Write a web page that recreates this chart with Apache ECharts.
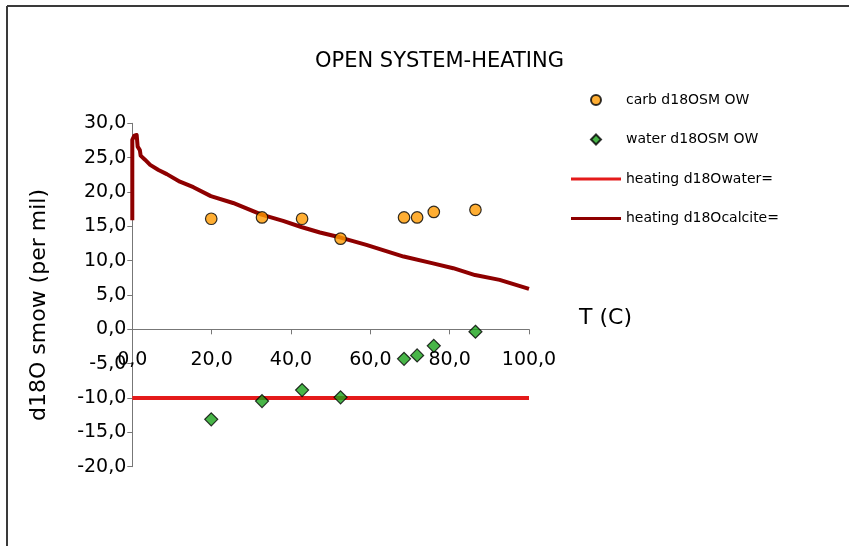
<!DOCTYPE html>
<html>
<head>
<meta charset="utf-8">
<script src="https://cdn.jsdelivr.net/npm/echarts@6/dist/echarts.min.js"></script>
<style>
html,body{margin:0;padding:0;background:#fff;}
#chart{width:849px;height:546px;}
</style>
</head>
<body>
<div id="chart"></div>
<script>
// Sample temperatures (T, °C)
const sampleT = [19.9, 32.7, 42.8, 52.5, 68.5, 71.8, 76.0, 86.5];
// carbonate d18O SMOW
const carbD18O = [16.1, 16.3, 16.1, 13.2, 16.3, 16.3, 17.1, 17.4];
// water d18O SMOW
const waterD18O = [-13.1, -10.45, -8.85, -9.9, -4.3, -3.8, -2.4, -0.35];
// heating model: water
const heatWaterT = [0, 100];
const heatWaterD18O = [-10, -10];
// heating model: calcite
const heatCalciteT = [0, 0, 0.5, 1.1, 1.35, 1.9, 2.1, 3.2, 4.5, 6.6, 8.7, 12.0, 15.4, 19.8, 25.4, 32.6, 38.0, 42.6, 47.3, 52.3, 59.0, 68.4, 75.8, 80.9, 86.4, 92.6, 100];
const heatCalciteD18O = [15.9, 27.6, 28.2, 28.3, 26.6, 26.1, 25.3, 24.7, 23.95, 23.2, 22.6, 21.5, 20.7, 19.4, 18.4, 16.7, 15.8, 14.9, 14.1, 13.4, 12.3, 10.6, 9.6, 8.9, 7.9, 7.2, 5.9];

const seriesNames = ['carb d18OSM OW', 'water d18OSM OW', 'heating d18Owater=', 'heating d18Ocalcite='];
const titleText = 'OPEN SYSTEM-HEATING';
const xName = 'T (C)';
const yName = 'd18O smow (per mil)';
const yMin = -20, yMax = 30;

const zip = (a, b) => a.map((v, i) => [v, b[i]]);
const fmt = v => v.toFixed(1).replace('.', ',');
const FONT = 'DejaVu Sans';
const AXIS_COLOR = '#777';

const GRID = {left: 132.3, right: 320, top: 123.3, bottom: 79.3};
const plotH = 546 - GRID.top - GRID.bottom;
// place the x axis on the zero line (offset from the grid bottom, computed from the y scale)
const xAxisOffset = -plotH * (0 - yMin) / (yMax - yMin);

const LINE_ICON = 'path://M0,0L50,0L50,3L0,3Z';
const DIAMOND_ICON = 'path://M5,0L10,5L5,10L0,5Z';

const chart = echarts.init(document.getElementById('chart'), null, {renderer: 'canvas'});
chart.setOption({
  animation: false,
  backgroundColor: '#fff',
  textStyle: {fontFamily: FONT, color: '#000'},
  title: {
    text: titleText,
    left: 315, top: 51, padding: 0,
    textStyle: {fontFamily: FONT, fontSize: 21, fontWeight: 'normal', color: '#000'}
  },
  legend: {
    orient: 'vertical',
    left: 571, top: 93, padding: 0,
    itemWidth: 50, itemHeight: 10,
    itemGap: 25.5,
    symbolKeepAspect: true,
    data: [
      {name: seriesNames[0], icon: 'circle'},
      {name: seriesNames[1], icon: DIAMOND_ICON},
      {name: seriesNames[2], icon: LINE_ICON},
      {name: seriesNames[3], icon: LINE_ICON}
    ],
    textStyle: {fontFamily: FONT, fontSize: 14, color: '#000'}
  },
  grid: Object.assign({containLabel: false}, GRID),
  xAxis: {
    type: 'value', min: 0, max: 100, interval: 20,
    position: 'bottom', offset: xAxisOffset,
    name: xName, nameLocation: 'end', nameGap: 50,
    nameTextStyle: {fontFamily: FONT, fontSize: 22, color: '#000', align: 'left', verticalAlign: 'bottom'},
    axisLine: {onZero: false, lineStyle: {color: AXIS_COLOR, width: 1}},
    axisTick: {show: true, inside: false, length: 5, lineStyle: {color: AXIS_COLOR}},
    axisLabel: {formatter: fmt, fontFamily: FONT, fontSize: 19, color: '#000', margin: 21},
    splitLine: {show: false}
  },
  yAxis: {
    type: 'value', min: yMin, max: yMax, interval: 5,
    name: yName, nameLocation: 'middle', nameGap: 82, nameRotate: 90,
    nameMoveOverlap: false,
    nameTextStyle: {fontFamily: FONT, fontSize: 22, color: '#000', padding: [0, 20, 0, 0]},
    axisLine: {show: true, lineStyle: {color: AXIS_COLOR, width: 1}},
    axisTick: {show: true, inside: false, length: 5, lineStyle: {color: AXIS_COLOR}},
    axisLabel: {formatter: fmt, fontFamily: FONT, fontSize: 19, color: '#000', margin: 6},
    splitLine: {show: false}
  },
  series: [
    {
      name: seriesNames[0], type: 'scatter', z: 5,
      data: zip(sampleT, carbD18O),
      symbol: 'circle', symbolSize: 11.5,
      itemStyle: {color: '#ff9a00', borderColor: '#000', borderWidth: 1.2}
    },
    {
      name: seriesNames[1], type: 'scatter', z: 5,
      data: zip(sampleT, waterD18O),
      symbol: 'diamond', symbolSize: 13,
      itemStyle: {color: '#1aa31a', borderColor: '#000', borderWidth: 1.2}
    },
    {
      name: seriesNames[2], type: 'line', z: 2,
      data: zip(heatWaterT, heatWaterD18O),
      symbol: 'none', showSymbol: false,
      lineStyle: {color: '#e41a1a', width: 4},
      itemStyle: {color: '#e41a1a'}
    },
    {
      name: seriesNames[3], type: 'line', z: 3,
      data: zip(heatCalciteT, heatCalciteD18O),
      symbol: 'none', showSymbol: false,
      lineStyle: {color: '#8e0000', width: 4, join: 'round'},
      itemStyle: {color: '#8e0000'}
    }
  ],
  graphic: [
    {type: 'line', silent: true, shape: {x1: 7, y1: 6, x2: 849, y2: 6}, style: {stroke: '#3a3a3a', lineWidth: 2}},
    {type: 'line', silent: true, shape: {x1: 7, y1: 6, x2: 7, y2: 546}, style: {stroke: '#3a3a3a', lineWidth: 2}}
  ]
});
</script>
</body>
</html>
